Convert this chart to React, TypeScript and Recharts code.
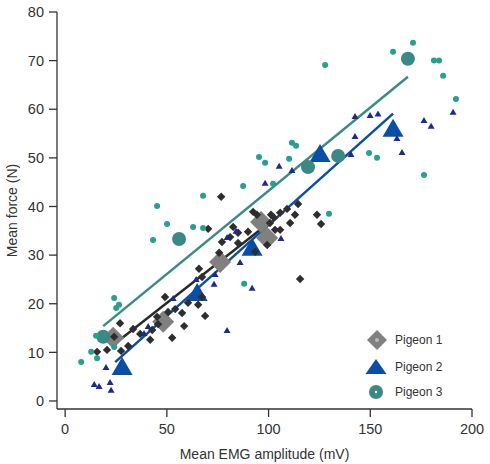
import React from 'react';
import { ScatterChart, Scatter, XAxis, YAxis, Label } from 'recharts';

type Pt = [number, number];

const xTicks = [0, 50, 100, 150, 200];
const yTicks = [0, 10, 20, 30, 40, 50, 60, 70, 80];
const seriesNames = ['Pigeon 1', 'Pigeon 2', 'Pigeon 3'];

// Pigeon 1: individual trials
const pigeon1Trials: Pt[] = [
  [15.7, 10.1], [20.6, 10.5], [27.0, 16.0], [24.1, 13.2], [27.5, 10.3], [31.0, 11.3],
  [33.4, 14.8], [36.9, 13.8], [41.8, 12.6], [42.8, 14.6], [45.2, 17.3], [45.7, 15.8],
  [50.6, 18.3], [52.6, 13.0], [58.5, 15.4], [57.5, 18.1], [60.4, 20.2], [65.4, 19.8],
  [68.8, 17.5], [49.1, 21.4], [54.1, 18.9], [67.3, 21.4], [65.8, 27.2], [67.3, 25.5],
  [75.7, 30.5], [70.3, 35.4], [76.7, 42.0], [77.1, 32.7], [81.1, 33.7], [82.6, 35.8],
  [85.0, 34.6], [85.0, 32.5], [89.9, 34.8], [92.4, 38.9], [94.3, 38.3], [93.4, 30.7],
  [99.3, 32.1], [100.7, 36.6], [101.2, 38.3], [102.7, 37.7], [103.2, 35.2], [105.7, 35.2],
  [105.7, 38.7], [109.1, 39.5], [110.6, 36.6], [113.0, 38.3], [114.5, 40.5], [115.5, 25.1],
  [123.8, 38.3], [125.8, 36.4],
];
const pigeon1Means: Pt[] = [[23.6, 13.0], [48.2, 16.3], [76.2, 28.6], [96.3, 36.8], [99.3, 33.5]];
const pigeon1Fit: Pt[] = [[23.6, 11.5], [99.5, 36.4]];

// Pigeon 2: individual trials
const pigeon2Trials: Pt[] = [
  [14.3, 3.5], [16.7, 3.1], [20.1, 7.0], [22.1, 3.9], [22.6, 2.3], [38.8, 14.0],
  [40.8, 15.4], [53.1, 21.2], [64.4, 25.1], [73.2, 24.1], [73.7, 26.1], [79.6, 14.6],
  [86.0, 28.6], [91.9, 23.3], [84.0, 35.0], [79.6, 33.7], [106.1, 33.5], [105.2, 48.4],
  [111.5, 47.5], [98.3, 44.9], [142.5, 58.6], [149.9, 58.8], [153.8, 59.1], [142.5, 54.5],
  [140.5, 50.8], [163.1, 54.1], [165.6, 51.2], [176.4, 57.8], [179.9, 56.6], [190.7, 59.5],
];
const pigeon2Means: Pt[] = [[28.0, 7.2], [64.9, 22.4], [91.9, 31.7], [125.3, 51.0], [161.2, 56.2]];
const pigeon2Fit: Pt[] = [[24.6, 8.0], [161.2, 59.1]];

// Pigeon 3: individual trials
const pigeon3Trials: Pt[] = [
  [7.9, 8.0], [12.8, 10.1], [15.7, 8.8], [15.2, 13.4], [24.1, 21.2], [25.1, 19.1],
  [26.5, 19.8], [24.1, 11.1], [43.2, 33.1], [45.2, 40.1], [50.1, 36.4], [62.9, 35.8],
  [67.8, 42.2], [67.8, 35.6], [87.5, 44.2], [88.0, 24.1], [95.3, 50.2], [98.3, 49.0],
  [102.2, 44.7], [110.1, 49.8], [111.5, 53.1], [113.5, 52.5], [129.7, 38.5], [149.4, 51.0],
  [153.3, 50.0], [161.2, 71.8], [171.0, 73.7], [181.3, 70.0], [183.8, 70.0], [185.8, 66.9],
  [192.1, 62.1], [176.4, 46.5], [127.8, 69.1],
];
const pigeon3Means: Pt[] = [[18.7, 13.2], [56.0, 33.3], [119.4, 48.1], [134.2, 50.4], [168.5, 70.4]];
const pigeon3Fit: Pt[] = [[18.7, 15.4], [168.5, 66.7]];

const rows = (pts: Pt[]) => pts.map(([x, y]) => ({ x, y }));

const C = {
  axis: '#333333',
  p1Small: '#2e2e2e',
  p1Big: '#808080',
  p1Line: '#2a2a2a',
  p2Small: '#1d2a8e',
  p2Big: '#0a4ea6',
  p2Line: '#0a4ea6',
  p3Small: '#27a08e',
  p3Big: '#3c8884',
  p3Line: '#3c8b83',
};

const FONT = '"Liberation Sans", Arial, Helvetica, sans-serif';

const diamond = (r: number, fill: string) => (p: any) => {
  const { cx, cy } = p;
  return <polygon points={`${cx},${cy - r} ${cx + r},${cy} ${cx},${cy + r} ${cx - r},${cy}`} fill={fill} />;
};
const triangle = (w: number, h: number, fill: string) => (p: any) => {
  const { cx, cy } = p;
  return (
    <polygon
      points={`${cx},${cy - h / 2} ${cx + w / 2},${cy + h / 2} ${cx - w / 2},${cy + h / 2}`}
      fill={fill}
    />
  );
};
const circle = (r: number, fill: string) => (p: any) => {
  const { cx, cy } = p;
  return <circle cx={cx} cy={cy} r={r} fill={fill} />;
};
const noMark = () => <g />;

const LegendBox = () => (
  <svg
    width={120}
    height={90}
    style={{ position: 'absolute', left: 350, top: 320, overflow: 'visible' }}
  >
    <g transform="translate(27,20)">
      <polygon points="0,-10 10,0 0,10 -10,0" fill={C.p1Big} />
      <circle r={2} fill="#b8b8b8" />
    </g>
    <g transform="translate(26,47)">
      <polygon points="0,-8 10.5,7 -10.5,7" fill={C.p2Big} />
    </g>
    <g transform="translate(26,72)">
      <circle r={7} fill={C.p3Big} />
      <circle r={1.2} fill="#ffffff" />
    </g>
    {seriesNames.map((n, i) => (
      <text
        key={n}
        x={45}
        y={[20, 47, 72][i]}
        dy="0.36em"
        fontSize={12}
        fill={C.axis}
        fontFamily={FONT}
      >
        {n}
      </text>
    ))}
  </svg>
);

export default function App() {
  return (
    <div style={{ position: 'absolute', left: 0, top: 0, width: 490, height: 464, background: '#fff' }}>
      <ScatterChart width={490} height={464} margin={{ top: 12, right: 18, bottom: 0, left: 0 }}>
        <XAxis
          type="number"
          dataKey="x"
          domain={[-4, 200]}
          allowDataOverflow
          ticks={xTicks}
          interval={0}
          height={55}
          tickSize={8}
          tickMargin={7}
          axisLine={{ stroke: C.axis, strokeWidth: 1.3 }}
          tickLine={{ stroke: C.axis, strokeWidth: 1.3 }}
          tick={{ fill: C.axis, fontSize: 14.5, fontFamily: FONT }}
        >
          <Label
            value="Mean EMG amplitude (mV)"
            position="insideBottom"
            offset={5}
            style={{ fill: C.axis, fontSize: 14, fontFamily: FONT }}
          />
        </XAxis>
        <YAxis
          type="number"
          dataKey="y"
          domain={[-1.65, 80]}
          allowDataOverflow
          ticks={yTicks}
          interval={0}
          width={57}
          tickSize={8}
          tickMargin={5}
          axisLine={{ stroke: C.axis, strokeWidth: 1.3 }}
          tickLine={{ stroke: C.axis, strokeWidth: 1.3 }}
          tick={{ fill: C.axis, fontSize: 14.5, fontFamily: FONT }}
        >
          <Label
            content={(props: any) => {
              const vb = props.viewBox || {};
              const cy = (vb.y ?? 0) + (vb.height ?? 0) / 2;
              return (
                <text
                  x={17}
                  y={cy}
                  transform={`rotate(-90, 17, ${cy})`}
                  textAnchor="middle"
                  fontSize={14}
                  fill={C.axis}
                  fontFamily={FONT}
                >
                  Mean force (N)
                </text>
              );
            }}
          />
        </YAxis>

        <Scatter data={rows(pigeon3Fit)} line={{ stroke: C.p3Line, strokeWidth: 2.5 }} shape={noMark} isAnimationActive={false} />
        <Scatter data={rows(pigeon1Fit)} line={{ stroke: C.p1Line, strokeWidth: 2.5 }} shape={noMark} isAnimationActive={false} />
        <Scatter data={rows(pigeon2Fit)} line={{ stroke: C.p2Line, strokeWidth: 2.5 }} shape={noMark} isAnimationActive={false} />

        <Scatter data={rows(pigeon1Means)} shape={diamond(11, C.p1Big)} isAnimationActive={false} />
        <Scatter data={rows(pigeon2Means)} shape={triangle(21, 18, C.p2Big)} isAnimationActive={false} />
        <Scatter data={rows(pigeon3Means)} shape={circle(7, C.p3Big)} isAnimationActive={false} />

        <Scatter data={rows(pigeon1Trials)} shape={diamond(4.2, C.p1Small)} isAnimationActive={false} />
        <Scatter data={rows(pigeon2Trials)} shape={triangle(7, 6, C.p2Small)} isAnimationActive={false} />
        <Scatter data={rows(pigeon3Trials)} shape={circle(3, C.p3Small)} isAnimationActive={false} />
      </ScatterChart>
      <LegendBox />
    </div>
  );
}
